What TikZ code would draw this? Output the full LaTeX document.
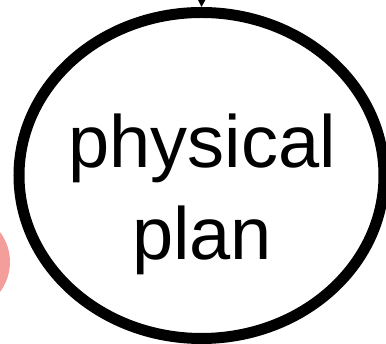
\documentclass[tikz,border=0pt]{standalone}
\usepackage{fontspec}
\setmainfont{Liberation Sans}
\usetikzlibrary{shapes.geometric,arrows.meta}
\definecolor{bubblepink}{RGB}{243,158,154}

\begin{document}
\begin{tikzpicture}[x=1pt,y=1pt]
      \useasboundingbox (0,0) rectangle (386,344);
      \node[circle, fill=bubblepink, inner sep=0pt, minimum size=100pt] (prevstep) at (-40,82) {};
      \node[ellipse, draw, line width=11pt, minimum width=365pt, minimum height=326pt, inner sep=0pt] (plan) at (201.5,168.5) {};
      \node[align=center, inner sep=0pt, font=\fontsize{74}{92}\selectfont] (plantext) at (202,150) {physical\\plan};
      \coordinate (fromabove) at (202.5,380);
      \draw[line width=2pt, -{Triangle[length=11pt,width=11pt]}] (fromabove) -- (plan.north);
    \end{tikzpicture}
\end{document}
